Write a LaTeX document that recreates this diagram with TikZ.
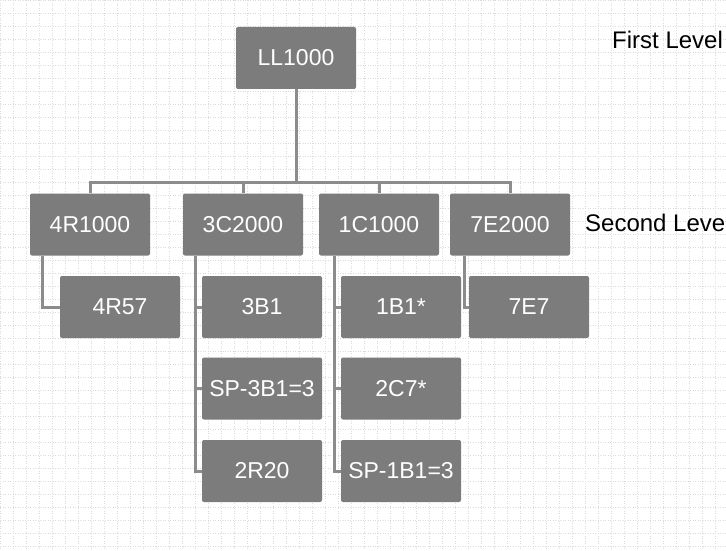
\documentclass[tikz,border=0pt]{standalone}
\usepackage{fontspec}
\setmainfont{Liberation Sans}
\definecolor{boxgray}{HTML}{7C7C7C}
\definecolor{linegray}{HTML}{8C8C8C}
\begin{document}
\begin{tikzpicture}[x=1pt,y=-1pt,
  orgbox/.style={fill=boxgray, text=white, rounded corners=2pt, minimum width=120pt, minimum height=62pt, inner sep=0pt, font=\fontsize{23}{26}\selectfont},
  link/.style={draw=linegray, line width=3pt},
  lvl/.style={anchor=west, inner sep=0pt, font=\fontsize{24}{28}\selectfont, text=black}]
\useasboundingbox (0,0) rectangle (726,551);
\fill[white] (0,0) rectangle (726,551);
\begin{scope}
\clip (0,0) rectangle (726,551);
\draw[gray!28, line width=0.5pt, dotted] (0,0) grid[step=13pt] (726,551);
\end{scope}
% nodes
\node[orgbox] (ll) at (296,58) {LL1000};
\node[orgbox] (a) at (90,224.5) {4R1000};
\node[orgbox] (b) at (243,224.5) {3C2000};
\node[orgbox] (c) at (379,224.5) {1C1000};
\node[orgbox] (d) at (510,224.5) {7E2000};
\node[orgbox] (a3) at (120,307) {4R57};
\node[orgbox] (b3) at (262,307) {3B1};
\node[orgbox] (c3) at (401,307) {1B1*};
\node[orgbox] (d3) at (529,307) {7E7};
\node[orgbox] (b4) at (262,388.5) {SP-3B1=3};
\node[orgbox] (c4) at (401,388.5) {2C7*};
\node[orgbox] (b5) at (262,471) {2R20};
\node[orgbox] (c5) at (401,471) {SP-1B1=3};
% labels
\node[lvl] (l1) at (612,40) {First Level};
\node[lvl] (l2) at (585,223) {Second Leve};
% connectors
\coordinate (j) at (296,182);
\draw[link] (ll.south) -- (j);
\draw[link] (a.north) |- (j) -| (d.north);
\draw[link] (b.north) -- (b.north |- j);
\draw[link] (c.north) -- (c.north |- j);
\draw[link] ([xshift=13pt]a.south west) |- (a3.west);
\draw[link] ([xshift=13pt]b.south west) |- (b3.west);
\draw[link] ([xshift=13pt]b.south west) |- (b4.west);
\draw[link] ([xshift=13pt]b.south west) |- (b5.west);
\draw[link] ([xshift=16pt]c.south west) |- (c3.west);
\draw[link] ([xshift=16pt]c.south west) |- (c4.west);
\draw[link] ([xshift=16pt]c.south west) |- (c5.west);
\draw[link] ([xshift=15pt]d.south west) |- (d3.west);
\end{tikzpicture}
\end{document}
